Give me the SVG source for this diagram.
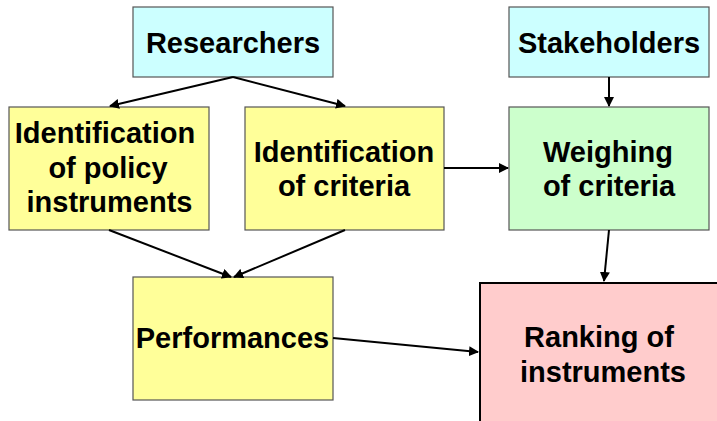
<svg xmlns="http://www.w3.org/2000/svg" width="717" height="421" viewBox="0 0 717 421">
<style>
.box{stroke:#555;stroke-width:1.2}
.cyan{fill:#CCFFFF}
.yellow{fill:#FFFF99}
.green{fill:#CCFFCC}
.pink{fill:#FFCCCC;stroke:#000;stroke-width:2}
text{font-family:"Liberation Sans",Arial,sans-serif;font-weight:bold;font-size:29px;fill:#000;text-anchor:middle}
.conn line{stroke:#000;stroke-width:2;marker-end:url(#ah)}
</style>
<defs>
<marker id="ah" viewBox="0 0 10 10" refX="9" refY="5" markerWidth="5" markerHeight="5" orient="auto" markerUnits="strokeWidth">
<path d="M0,0 L10,5 L0,10 z" fill="#000"/>
</marker>
</defs>
<rect width="717" height="421" fill="#fff"/>
<g id="researchers">
<rect class="box cyan" x="133" y="7" width="200" height="70"/>
<text x="233" y="53">Researchers</text>
</g>
<g id="stakeholders">
<rect class="box cyan" x="509" y="7" width="200" height="70"/>
<text x="609" y="53">Stakeholders</text>
</g>
<g id="id-policy">
<rect class="box yellow" x="9" y="107" width="200" height="123"/>
<text x="105" y="143">Identification</text>
<text x="108" y="177.5">of policy</text>
<text x="109.5" y="212">instruments</text>
</g>
<g id="id-criteria">
<rect class="box yellow" x="245" y="107" width="199" height="123"/>
<text x="344" y="162">Identification</text>
<text x="344" y="196">of criteria</text>
</g>
<g id="weighing">
<rect class="box green" x="509" y="107" width="200" height="123"/>
<text x="608" y="162">Weighing</text>
<text x="609" y="196">of criteria</text>
</g>
<g id="performances">
<rect class="box yellow" x="133" y="277" width="200" height="123"/>
<text x="232.5" y="348">Performances</text>
</g>
<g id="ranking">
<rect class="pink" x="480" y="283" width="250" height="150"/>
<text x="599" y="347">Ranking of</text>
<text x="603" y="382">instruments</text>
</g>
<g class="conn" id="connectors">
<line x1="233" y1="77" x2="110" y2="106"/>
<line x1="233" y1="77" x2="345" y2="106"/>
<line x1="609" y1="77" x2="609" y2="106"/>
<line x1="444" y1="168" x2="508" y2="168"/>
<line x1="109" y1="230" x2="231" y2="277"/>
<line x1="345" y1="230" x2="234" y2="277"/>
<line x1="609" y1="230" x2="604" y2="281"/>
<line x1="333" y1="338" x2="478" y2="352"/>
</g>
</svg>
